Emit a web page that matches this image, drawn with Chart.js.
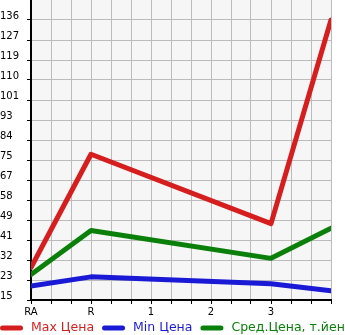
<!DOCTYPE html>
<html>
<head>
<meta charset="utf-8">
<script src="https://cdn.jsdelivr.net/npm/chart.js@4/dist/chart.umd.min.js"></script>
<style>
  html, body { margin: 0; padding: 0; background: #fff; }
  #wrap { width: 345px; height: 335px; }
</style>
</head>
<body>
<div id="wrap"><canvas id="mycanvas" width="345" height="335"></canvas></div>
<script>
// x labels sit at positions 0..4, last point is one step past "3"
var xLabels = ['RA', 'R', '1', '2', '3'];
var xPoints = [0, 1, 4, 5];

var maxPrice = [29, 78, 48, 136];
var minPrice = [21, 25, 22, 19];
var avgPrice = [26, 45, 33, 46];

var yTickLabels = [15, 23, 32, 41, 49, 58, 67, 75, 84, 93, 101, 110, 119, 127, 136];

var yStep = (yTickLabels[yTickLabels.length - 1] - yTickLabels[0]) / (yTickLabels.length - 1);

function pts(vals) {
  var out = [];
  for (var i in vals) out.push({ x: xPoints[i], y: vals[i] });
  return out;
}

var bgPlugin = {
  id: 'plotBg',
  beforeDraw: function (chart) {
    var a = chart.chartArea, c = chart.ctx;
    c.save();
    c.fillStyle = '#f6f6f6';
    c.fillRect(a.left, a.top, a.right - a.left, a.bottom - a.top);
    c.restore();
  }
};

// packed legend along the bottom edge, swatch + coloured text
var legendPlugin = {
  id: 'packedLegend',
  afterDraw: function (chart) {
    var c = chart.ctx;
    var y = 328;
    var x = 0;
    c.save();
    c.font = '12.5px "DejaVu Sans"';
    c.textBaseline = 'middle';
    c.lineCap = 'round';
    c.lineWidth = 5;
    chart.data.datasets.forEach(function (d) {
      c.strokeStyle = d.borderColor;
      c.beginPath();
      c.moveTo(x + 2.5, y);
      c.lineTo(x + 20.5, y);
      c.stroke();
      x += 31;
      c.fillStyle = d.borderColor;
      c.fillText(d.label, x, y);
      x += c.measureText(d.label).width + 8;
    });
    c.restore();
  }
};

var red = '#d61e1e', blue = '#1a1ad6', green = '#0a800a';

function ds(label, vals, color) {
  return {
    label: label,
    data: pts(vals),
    borderColor: color,
    backgroundColor: color,
    borderWidth: 5,
    borderCapStyle: 'round',
    borderJoinStyle: 'round',
    pointRadius: 0,
    tension: 0,
    fill: false
  };
}

var ctx = document.getElementById('mycanvas');
var chart = new Chart(ctx, {
  type: 'line',
  data: {
    datasets: [
      ds('Max Цена', maxPrice, red),
      ds('Min Цена', minPrice, blue),
      ds('Сред.Цена, т.йен', avgPrice, green)
    ]
  },
  plugins: [bgPlugin, legendPlugin],
  options: {
    responsive: false,
    animation: false,
    layout: { padding: { top: 0, right: 14, left: 0, bottom: 15 } },
    plugins: {
      tooltip: { enabled: false },
      legend: { display: false }
    },
    scales: {
      x: {
        type: 'linear',
        min: 0,
        max: 5,
        afterBuildTicks: function (scale) {
          var t = [];
          for (var i = 0; i <= 15; i++) t.push({ value: i / 3 });
          scale.ticks = t;
        },
        afterFit: function (scale) {
          scale.height = 20;
          scale.paddingLeft = 0;
          scale.paddingRight = 0;
        },
        ticks: {
          autoSkip: false,
          maxRotation: 0,
          color: '#000',
          font: { family: 'DejaVu Sans', size: 10 },
          padding: 2,
          callback: function (v, i) {
            return (i % 3 === 0 && xLabels[i / 3] !== undefined) ? xLabels[i / 3] : '';
          }
        },
        grid: { color: '#bbbbbb', lineWidth: 1, tickLength: 4, tickColor: '#000' },
        border: { color: '#000', width: 2 }
      },
      y: {
        min: yTickLabels[0],
        max: yTickLabels[yTickLabels.length - 1] + yStep,
        afterBuildTicks: function (scale) {
          scale.ticks = yTickLabels.map(function (l, i) { return { value: yTickLabels[0] + i * yStep }; });
        },
        afterFit: function (scale) {
          scale.width = 31;
          scale.paddingTop = 0;
          scale.paddingBottom = 0;
        },
        ticks: {
          autoSkip: false,
          color: '#000',
          font: { family: 'DejaVu Sans', size: 10 },
          crossAlign: 'far',
          padding: 2,
          labelOffset: -4,
          callback: function (v, i) { return String(yTickLabels[i]); }
        },
        grid: { color: '#bbbbbb', lineWidth: 1, tickLength: 4, tickColor: '#000' },
        border: { color: '#000', width: 2 }
      }
    }
  }
});
</script>
</body>
</html>
